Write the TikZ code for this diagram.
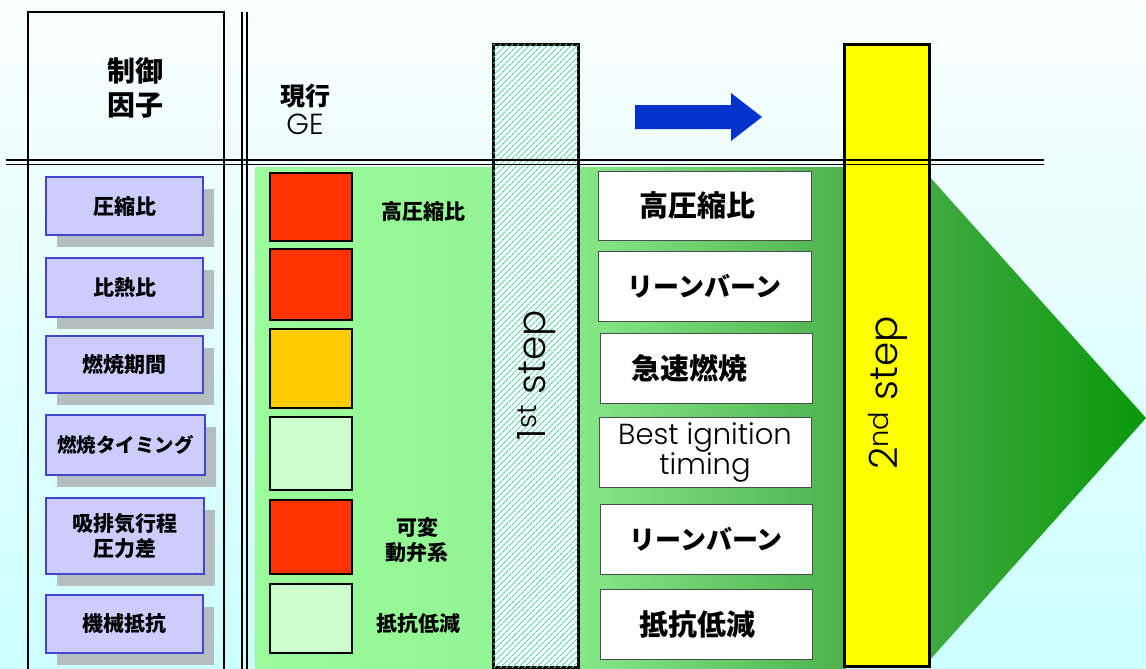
\documentclass[tikz,border=0pt]{standalone}
\usepackage{fontspec}
\setmainfont{Noto Sans CJK JP}
\IfFontExistsTF{Poppins Light}{\newfontfamily\lat{Poppins Light}}{\newfontfamily\lat{Poppins}}
\usetikzlibrary{shadows,patterns.meta}
\definecolor{bgtop}{RGB}{250,254,255}
\definecolor{bgbot}{RGB}{204,255,255}
\definecolor{boxfill}{RGB}{204,204,255}
\definecolor{boxline}{RGB}{68,68,204}
\definecolor{shadowgray}{RGB}{180,190,190}
\definecolor{sqred}{RGB}{255,51,0}
\definecolor{sqorange}{RGB}{255,204,0}
\definecolor{sqlight}{RGB}{204,255,204}
\definecolor{hatch}{RGB}{80,208,165}
\definecolor{gA}{RGB}{156,252,156}
\definecolor{gB}{RGB}{146,244,146}
\definecolor{gC}{RGB}{136,232,136}
\definecolor{gD}{RGB}{76,178,76}
\definecolor{tA}{RGB}{64,170,64}
\definecolor{tB}{RGB}{10,152,10}
\definecolor{arrowblue}{RGB}{0,51,204}
\definecolor{barYellow}{RGB}{255,255,0}
\tikzset{
  factorbox/.style={draw=boxline, line width=1.5pt, fill=boxfill, inner sep=0pt,
    general shadow={fill=shadowgray, shadow xshift=11pt, shadow yshift=-12pt},
    font=\bfseries\fontsize{21}{25}\selectfont, align=center},
  sq/.style={draw=black, line width=1.5pt, inner sep=0pt, minimum width=82pt},
  resbox/.style={draw=black!70, line width=1pt, fill=white, inner sep=0pt,
    font=\bfseries\fontsize{29}{33}\selectfont, align=center},
  midlabel/.style={font=\bfseries\fontsize{21}{25}\selectfont, align=center, inner sep=0pt},
  stepbar/.style={draw=black, line width=3pt, inner sep=0pt, minimum width=85pt},
  steptext/.style={font=\lat\fontsize{39}{42}\selectfont, rotate=90, inner sep=0pt},
  frame/.style={line width=2.5pt, black},
  thinframe/.style={line width=1.5pt, black}
}
\begin{document}
\begin{tikzpicture}[x=1pt,y=-1pt]
\useasboundingbox (0,0) rectangle (1146,669);
% background
\shade[top color=bgtop, bottom color=bgbot] (0,0) rectangle (1146,669);
% green panels
\shade[left color=gA, right color=gB] (255,167) rectangle (494,669);
\shade[left color=gC, right color=gD] (577,167) rectangle (846,669);
% triangle
\shade[left color=tA, right color=tB] (928,175) -- (1146,418) -- (928,662) -- cycle;
% frames
\draw[frame] (28,669) -- (28,12) -- (224,12) -- (224,669);
\draw[thinframe] (242,12) -- (242,669);
\draw[thinframe] (247,12) -- (247,669);
% header texts
\node[font=\bfseries\fontsize{28}{34}\selectfont, align=center, inner sep=0pt] (hdr) at (135,88) {制御\\因子};
\node[font=\bfseries\fontsize{25}{29}\selectfont, inner sep=0pt] (cur) at (305,96) {現行};
\node[font=\lat\fontsize{29}{32}\selectfont, inner sep=0pt] (ge) at (305,124) {GE};
% arrow
\fill[arrowblue] (635,105) -- (731,105) -- (731,93) -- (762,117) -- (731,141) -- (731,129) -- (635,129) -- cycle;
% factor boxes
\node[factorbox, minimum width=157pt, minimum height=58pt] (f1) at (124.5,206) {圧縮比};
\node[factorbox, minimum width=157pt, minimum height=59pt] (f2) at (124.5,287.5) {比熱比};
\node[factorbox, minimum width=157pt, minimum height=57pt] (f3) at (124.5,364.5) {燃焼期間};
\node[factorbox, minimum width=159pt, minimum height=60pt, font=\bfseries\fontsize{19.5}{23}\selectfont] (f4) at (125.5,445) {燃焼タイミング};
\node[factorbox, minimum width=158pt, minimum height=76pt] (f5) at (125,536) {吸排気行程\\圧力差};
\node[factorbox, minimum width=157pt, minimum height=58pt] (f6) at (124.5,624) {機械抵抗};
% squares
\node[sq, fill=sqred, minimum height=68pt] (s1) at (311,207) {};
\node[sq, fill=sqred, minimum height=71pt] (s2) at (311,284.5) {};
\node[sq, fill=sqorange, minimum height=79pt] (s3) at (311,368.5) {};
\node[sq, fill=sqlight, minimum height=73pt] (s4) at (311,453.5) {};
\node[sq, fill=sqred, minimum height=74pt] (s5) at (311,537) {};
\node[sq, fill=sqlight, minimum height=69pt] (s6) at (311,618.5) {};
% mid labels
\node[midlabel] (m1) at (423,211) {高圧縮比};
\node[midlabel] (m5) at (417,540) {可変\\動弁系};
\node[midlabel] (m6) at (418,623) {抵抗低減};
% result boxes
\node[resbox, minimum width=213pt, minimum height=69pt] (r1) at (704.5,205.5) {\hspace*{-14pt}高圧縮比};
\node[resbox, minimum width=213pt, minimum height=70pt, font=\bfseries\fontsize{26}{30}\selectfont] (r2) at (704.5,286) {リーンバーン};
\node[resbox, minimum width=212pt, minimum height=70pt] (r3) at (706,368) {\hspace*{-34pt}急速燃焼};
\node[resbox, minimum width=212pt, minimum height=70pt, font=\lat\fontsize{29}{30}\selectfont] (r4) at (705,452) {Best ignition\\timing};
\node[resbox, minimum width=212pt, minimum height=70pt, font=\bfseries\fontsize{26}{30}\selectfont] (r5) at (706,539) {リーンバーン};
\node[resbox, minimum width=212pt, minimum height=70pt] (r6) at (706,624) {\hspace*{-18pt}抵抗低減};
% step bars
\node[stepbar, minimum height=622pt, fill=white,
  postaction={pattern={Lines[angle=45,distance=4pt,line width=1.2pt]}, pattern color=hatch}] (b1) at (535.5,356) {};
\node[stepbar, minimum height=621pt, fill=barYellow] (b2) at (886.5,355.5) {};
\node[steptext] (t1) at (537,375) {1\textsuperscript{st} step};
\node[steptext] (t2) at (888,393) {2\textsuperscript{nd} step};
% horizontal double line
\draw[thinframe] (6,160) -- (1044,160);
\draw[thinframe] (6,164.5) -- (1044,164.5);
\end{tikzpicture}
\end{document}
